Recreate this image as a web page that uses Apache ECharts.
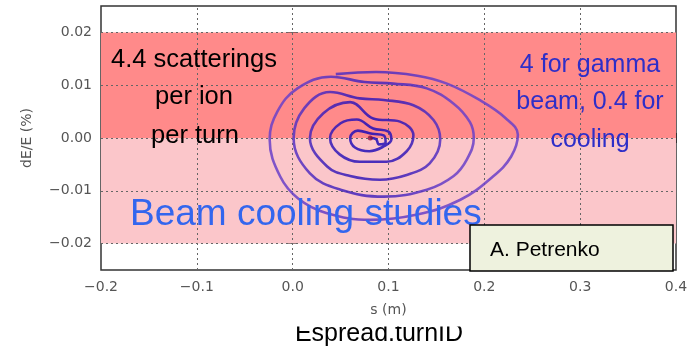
<!DOCTYPE html>
<html>
<head>
<meta charset="utf-8">
<script src="https://cdn.jsdelivr.net/npm/echarts@6/dist/echarts.min.js"></script>
<style>
  html, body { margin: 0; padding: 0; background: #fff; }
  #main { width: 691px; height: 346px; }
</style>
</head>
<body>
<div id="main"></div>
<script>
// axis ranges and tick labels
var xRange = [-0.2, 0.4];
var yRange = [-0.025, 0.025];
var xGridValues = [-0.1, 0, 0.1, 0.2, 0.3];
var yTickValues = [-0.02, -0.01, 0, 0.01, 0.02];

// shaded bands (dE/E)
var upperBand = [0, 0.02];
var lowerBand = [-0.02, 0];

// damped synchrotron spiral (outer turn first)
var spiralS = [
  0.045, 0.087, 0.13, 0.161, 0.195, 0.222, 0.235, 0.228, 0.209, 0.175, 0.13, 0.081, 0.035, 0.006, -0.013, -0.024, -0.016, 0.005, 0.04,
  0.075, 0.105, 0.14, 0.168, 0.185, 0.189, 0.182, 0.168, 0.14, 0.095, 0.05, 0.018, 0.001, 0.012, 0.039,
  0.07, 0.095, 0.126, 0.147, 0.154, 0.143, 0.119, 0.091, 0.06, 0.036, 0.018, 0.032, 0.06,
  0.084, 0.112, 0.126, 0.119, 0.098, 0.07, 0.049, 0.039, 0.05, 0.067,
  0.084, 0.1, 0.103, 0.095, 0.08, 0.065, 0.06, 0.068,
  0.083, 0.095, 0.097, 0.09, 0.087, 0.081
];
var spiralDE = [
  0.0121, 0.0125, 0.0118, 0.0103, 0.0072, 0.0038, 0.0006, -0.0035, -0.0073, -0.0117, -0.0145, -0.0155, -0.0142, -0.0115, -0.0073, -0.0003, 0.005, 0.0094, 0.0116,
  0.0106, 0.0103, 0.0094, 0.0065, 0.003, 0.0, -0.004, -0.0072, -0.0098, -0.0111, -0.0098, -0.0067, 0.0, 0.0056, 0.0087,
  0.0075, 0.0072, 0.0062, 0.0034, -0.0003, -0.0048, -0.007, -0.0079, -0.0072, -0.0054, 0.0, 0.0047, 0.0068,
  0.0037, 0.0031, 0.0005, -0.0025, -0.0045, -0.0045, -0.0031, 0.0, 0.0028, 0.0035,
  0.0018, 0.0012, -0.0003, -0.0016, -0.0025, -0.0018, 0.0, 0.0014,
  0.0008, 0.0005, -0.0008, -0.0012, -0.0002, 0.0
];
var startPoint = [0.081, 0.0];

var spiral = spiralS.map(function (s, i) { return [s, spiralDE[i]]; });

function minusSign(v, digits) {
  var t = Math.abs(v) < 1e-12 ? (0).toFixed(digits) : v.toFixed(digits);
  return t.replace('-', '\u2212');
}

var labelStyle = { color: '#555', fontFamily: 'DejaVu Sans', fontSize: 14 };
var tickStyle = { show: true, inside: true, length: 5, lineStyle: { color: '#333' } };

var gridMarks = xGridValues.map(function (v) { return { xAxis: v }; })
  .concat(yTickValues.map(function (v) { return { yAxis: v }; }));

var myChart = echarts.init(document.getElementById('main'));
var option = {
  backgroundColor: '#fff',
  animation: false,
  grid: { left: 101, right: 15, top: 6, bottom: 76, show: true, borderColor: '#333', borderWidth: 1.5 },
  xAxis: [
    {
      type: 'value', min: xRange[0], max: xRange[1], interval: 0.1,
      name: 's (m)', nameLocation: 'middle', nameGap: 33,
      nameTextStyle: labelStyle,
      axisLine: { show: false },
      axisTick: tickStyle,
      axisLabel: Object.assign({ margin: 10, formatter: function (v) { return minusSign(v, 1); } }, labelStyle),
      splitLine: { show: false }
    },
    {
      type: 'value', position: 'top', min: xRange[0], max: xRange[1], interval: 0.1,
      axisLine: { show: false }, axisTick: tickStyle,
      axisLabel: { show: false }, splitLine: { show: false }
    }
  ],
  yAxis: [
    {
      type: 'value', min: yRange[0], max: yRange[1], interval: 0.005,
      name: 'dE/E (%)', nameLocation: 'middle', nameGap: 67,
      nameTextStyle: labelStyle,
      axisLine: { show: false },
      axisTick: Object.assign({ customValues: yTickValues }, tickStyle),
      axisLabel: Object.assign({ margin: 9, customValues: yTickValues, formatter: function (v) { return minusSign(v, 2); } }, labelStyle),
      splitLine: { show: false }
    },
    {
      type: 'value', position: 'right', min: yRange[0], max: yRange[1], interval: 0.005,
      axisLine: { show: false },
      axisTick: Object.assign({ customValues: yTickValues }, tickStyle),
      axisLabel: { show: false }, splitLine: { show: false }
    }
  ],
  series: [
    {
      type: 'line', data: [], silent: true,
      markArea: {
        silent: true,
        data: [
          [{ yAxis: upperBand[0], itemStyle: { color: '#ff8a8a' } }, { yAxis: upperBand[1] }],
          [{ yAxis: lowerBand[0], itemStyle: { color: '#fbc6ca' } }, { yAxis: lowerBand[1] }]
        ]
      },
      markLine: {
        silent: true, symbol: 'none', label: { show: false },
        lineStyle: { color: '#666', type: [2, 3], width: 1 },
        data: gridMarks
      }
    },
    {
      type: 'line', data: spiral, showSymbol: false, smooth: 0.4, z: 6,
      lineStyle: {
        width: 2.6, opacity: 0.85,
        color: {
          type: 'radial', x: 0.4, y: 0.45, r: 0.6,
          colorStops: [
            { offset: 0, color: '#1a0ab8' },
            { offset: 0.5, color: '#3a1cb8' },
            { offset: 1, color: '#6a40c8' }
          ]
        }
      }
    },
    {
      type: 'scatter', data: [startPoint], symbolSize: 5, z: 7,
      itemStyle: { color: '#8a1040' }
    }
  ],
  graphic: [
    { type: 'text', z: 10, style: { text: '4.4 scatterings', x: 194, y: 60, align: 'center', verticalAlign: 'middle', font: '25.5px "Liberation Sans"', fill: '#000' } },
    { type: 'text', z: 10, style: { text: 'per ion', x: 194, y: 97, align: 'center', verticalAlign: 'middle', font: '25.5px "Liberation Sans"', fill: '#000' } },
    { type: 'text', z: 10, style: { text: 'per turn', x: 195, y: 136, align: 'center', verticalAlign: 'middle', font: '25.5px "Liberation Sans"', fill: '#000' } },
    { type: 'text', z: 10, style: { text: '4 for gamma', x: 590, y: 65, align: 'center', verticalAlign: 'middle', font: '25px "Liberation Sans"', fill: '#2e2ec8' } },
    { type: 'text', z: 10, style: { text: 'beam, 0.4 for', x: 590, y: 102, align: 'center', verticalAlign: 'middle', font: '25px "Liberation Sans"', fill: '#2e2ec8' } },
    { type: 'text', z: 10, style: { text: 'cooling', x: 590, y: 140, align: 'center', verticalAlign: 'middle', font: '25px "Liberation Sans"', fill: '#2e2ec8' } },
    { type: 'text', z: 10, style: { text: 'Beam cooling studies', x: 130, y: 215, align: 'left', verticalAlign: 'middle', font: '37px "Liberation Sans"', fill: '#3366ee' } },
    { type: 'rect', z: 11, shape: { x: 470, y: 225, width: 203, height: 46 }, style: { fill: '#eef2de', stroke: '#000', lineWidth: 1.5 } },
    { type: 'text', z: 12, style: { text: 'A. Petrenko', x: 490, y: 250, align: 'left', verticalAlign: 'middle', font: '21px "Liberation Sans"', fill: '#000' } },
    { type: 'text', z: 10, style: { text: 'Espread.turnID', x: 379, y: 334, align: 'center', verticalAlign: 'middle', font: '25px "Liberation Sans"', fill: '#000' } },
    { type: 'rect', z: 11, shape: { x: 280, y: 318, width: 200, height: 8.5 }, style: { fill: '#fff' } }
  ]
};
myChart.setOption(option);
</script>
</body>
</html>
